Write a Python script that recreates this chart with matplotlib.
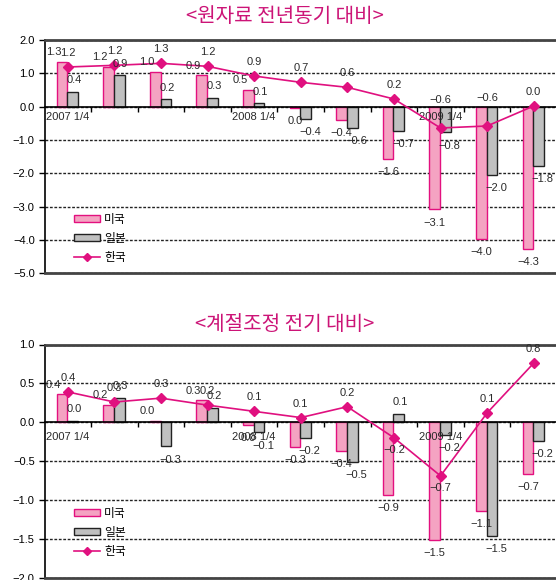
import matplotlib
matplotlib.use("Agg")
import numpy as np
import matplotlib.pyplot as plt
from matplotlib.patches import Patch
from matplotlib.lines import Line2D

plt.rcParams["font.family"] = ["Liberation Sans", "Noto Sans CJK KR", "DejaVu Sans"]
plt.rcParams["axes.unicode_minus"] = True

# quarters 2007 1/4 .. 2009 3/4
quarters = ["2007 1/4", "", "", "", "2008 1/4", "", "", "", "2009 1/4", "", ""]
series_names = ["미국", "일본", "한국"]

# 원자료 전년동기 대비 (%)
us_yoy = [1.34, 1.2, 1.04, 0.94, 0.5, -0.04, -0.4, -1.56, -3.08, -3.98, -4.28]
jp_yoy = [0.44, 0.94, 0.22, 0.26, 0.1, -0.36, -0.63, -0.73, -0.77, -2.04, -1.78]
kr_yoy = [1.19, 1.24, 1.3, 1.21, 0.92, 0.73, 0.58, 0.23, -0.64, -0.58, 0.02]

# 계절조정 전기 대비 (%)
us_qoq = [0.36, 0.22, 0.02, 0.28, -0.03, -0.32, -0.37, -0.93, -1.51, -1.14, -0.66]
jp_qoq = [0.02, 0.31, -0.31, 0.18, -0.13, -0.2, -0.51, 0.11, -0.16, -1.46, -0.24]
kr_qoq = [0.39, 0.26, 0.31, 0.22, 0.14, 0.06, 0.2, -0.2, -0.69, 0.12, 0.76]

US_FACE, US_EDGE = "#F4A3C2", "#E3107F"
JP_FACE, JP_EDGE = "#C0C0C0", "#222222"
KR_COLOR = "#E0107F"
TITLE_COLOR = "#CC1477"
LABEL_COLOR = "#2a2a2a"

W, H = 556, 580


def fmt(v):
    s = f"{v:.1f}"
    if s == "-0.0":
        s = "0.0"
    return s.replace("-", "\u2212")


def put_labels(ax, xs, vals, dx_pos, dy_pos, dx_neg, dy_neg):
    for x, v in zip(xs, vals):
        if v >= 0:
            off = (dx_pos, dy_pos)
        else:
            off = (dx_neg, -dy_neg)
        ax.annotate(fmt(v), (x, v), xytext=off, textcoords="offset points",
                    ha="center", va="center", fontsize=8, color=LABEL_COLOR, zorder=5)


def draw_panel(ax, us, jp, kr, ylim, step, legend_y, qpad, kr_neg_dy):
    x = np.arange(len(quarters))
    ax.set_axisbelow(True)
    ax.bar(x - 0.125, us, width=0.23, color=US_FACE, edgecolor=US_EDGE, linewidth=1, zorder=2)
    ax.bar(x + 0.105, jp, width=0.23, color=JP_FACE, edgecolor=JP_EDGE, linewidth=1, zorder=2)
    ax.plot(x, kr, color=KR_COLOR, lw=1.2, marker="D", markersize=4.8, zorder=4)

    put_labels(ax, x - 0.125, us, -6, 7, 0, 9.5)
    put_labels(ax, x + 0.105, jp, 1, 8.5, 3, 9.5)
    for xi, v in zip(x, kr):
        dy = kr_neg_dy if v < 0 else 10
        ax.annotate(fmt(v), (xi, v), xytext=(0, dy), textcoords="offset points",
                    ha="center", va="center", fontsize=8, color=LABEL_COLOR, zorder=5)

    for xi, q in zip(x, quarters):
        if q:
            ax.annotate(q, (xi, 0), xytext=(0, -qpad), textcoords="offset points",
                        ha="center", va="top", fontsize=8, color=LABEL_COLOR)

    ax.set_xlim(-0.5, len(quarters) - 0.5)
    ax.set_ylim(*ylim)
    ax.set_yticks(np.arange(ylim[0], ylim[1] + step / 2, step))
    ax.yaxis.set_major_formatter(plt.FuncFormatter(lambda v, p: fmt(v)))
    ax.set_xticks(np.arange(0.5, len(quarters) - 0.5, 1))
    ax.set_xticklabels([])
    ax.tick_params(axis="x", direction="out", length=3.5, width=1, color="black")
    ax.tick_params(axis="y", direction="out", length=4, width=1, labelsize=8,
                   colors="black", pad=3)

    ax.yaxis.grid(True, linestyle=(0, (2, 1.2)), color="#222222", lw=1)

    ax.spines["bottom"].set_position(("data", 0))
    ax.spines["bottom"].set_linewidth(1.2)
    ax.spines["left"].set_linewidth(1.2)
    ax.spines["right"].set_visible(False)
    ax.spines["top"].set_color("#444444")
    ax.spines["top"].set_linewidth(2)
    ax.axhline(ylim[0], color="#444444", lw=2, clip_on=False, zorder=3)

    handles = [
        Patch(facecolor=US_FACE, edgecolor=US_EDGE, lw=1),
        Patch(facecolor=JP_FACE, edgecolor=JP_EDGE, lw=1),
        Line2D([], [], color=KR_COLOR, lw=1.2, marker="D", markersize=4.2),
    ]
    ax.legend(handles, series_names, loc="upper left", bbox_to_anchor=(0.058, legend_y),
              frameon=False, fontsize=8.5, handlelength=2.2, handleheight=0.5,
              handletextpad=0.35, labelspacing=0.6, borderpad=0, borderaxespad=0)


fig = plt.figure(figsize=(W / 100, H / 100), dpi=100)

left, right = 44.5, 557
ax_top = fig.add_axes([left / W, 1 - 273.3 / H, (right - left) / W, (273.3 - 40) / H])
ax_bot = fig.add_axes([left / W, 1 - 577.7 / H, (right - left) / W, (577.7 - 344.5) / H])

draw_panel(ax_top, us_yoy, jp_yoy, kr_yoy, (-5.0, 2.0), 1.0, 0.255, 3.5, 20)
draw_panel(ax_bot, us_qoq, jp_qoq, kr_qoq, (-2.0, 1.0), 0.5, 0.3, 7, -9)

fig.text(285 / W, 1 - 17 / H, "<원자료 전년동기 대비>", ha="center", va="center",
         color=TITLE_COLOR, fontsize=14.5, family=["Noto Sans CJK KR", "DejaVu Sans"])
fig.text(285 / W, 1 - 324 / H, "<계절조정 전기 대비>", ha="center", va="center",
         color=TITLE_COLOR, fontsize=14.5, family=["Noto Sans CJK KR", "DejaVu Sans"])

fig.savefig("out.png", dpi=100)
